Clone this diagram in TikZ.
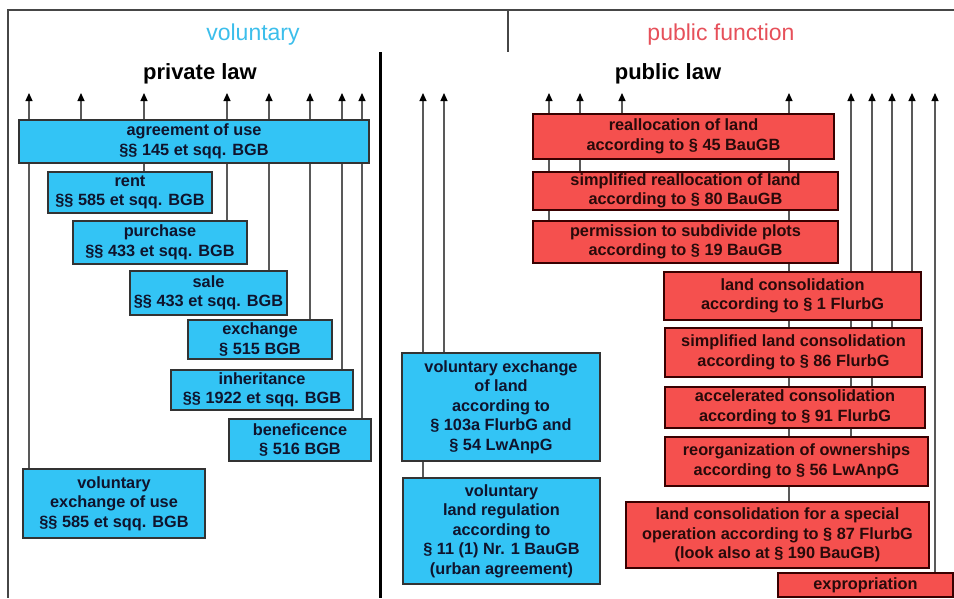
\documentclass[tikz,border=0pt]{standalone}
\usepackage{fontspec}
\setmainfont{Liberation Sans}
\usepackage{xcolor}
\usetikzlibrary{positioning, arrows.meta, backgrounds}

\definecolor{volblue}{RGB}{51,196,245}
\definecolor{pubred}{RGB}{245,80,78}
\definecolor{headblue}{RGB}{60,190,235}
\definecolor{headred}{RGB}{230,80,90}
\definecolor{volink}{RGB}{15,20,45}
\definecolor{pubink}{RGB}{40,10,10}
\definecolor{framegray}{RGB}{70,70,70}

\begin{document}
\begin{tikzpicture}[x=1pt, y=-1pt,
    box/.style={draw, line width=1.3pt, inner sep=0pt, align=center, font=\fontsize{16.3}{19.5}\selectfont\bfseries},
    priv/.style={box, fill=volblue, draw=black!80, text=volink},
    pub/.style={box, fill=pubred, draw=black!78!red, text=pubink},
    head/.style={anchor=base, font=\fontsize{23}{26}\selectfont},
    law/.style={anchor=base, font=\fontsize{22}{26}\selectfont\bfseries},
    up/.style={-{Triangle[length=8pt, width=7pt, color=black]}, line width=1.2pt, draw=black!65},
]
\useasboundingbox (0,0) rectangle (954,598);

% --- frame ---
\draw[framegray, line width=1.2pt] (954,10) -- (8,10) -- (8,598);
\draw[framegray, line width=1.2pt] (508,10) -- (508,52);
\draw[black, line width=3pt] (380,52) -- (380,598);

% --- headings ---
\node[head, text=headblue] (volhead) at (253,40) {voluntary};
\node[head, text=headred] (pubhead) at (721,40) {public function};
\node[law] (privlaw) at (200,79) {private law};
\node[law] (publaw) at (668,79) {public law};

% --- private law (voluntary) ---
\node[priv, minimum width=350pt, minimum height=43pt] (agree) at (194,141.5) {agreement of use\\§§ 145 et sqq. BGB};
\node[priv, minimum width=164pt, minimum height=41pt] (rent) at (130,192.5) {rent\\§§ 585 et sqq. BGB};
\node[priv, minimum width=174pt, minimum height=43pt] (purchase) at (160,242.5) {purchase\\§§ 433 et sqq. BGB};
\node[priv, minimum width=157pt, minimum height=44pt] (sale) at (208.5,293) {sale\\§§ 433 et sqq. BGB};
\node[priv, minimum width=144pt, minimum height=39pt] (exchange) at (260,339.5) {exchange\\§ 515 BGB};
\node[priv, minimum width=182pt, minimum height=40pt] (inherit) at (262,390) {inheritance\\§§ 1922 et sqq. BGB};
\node[priv, minimum width=142pt, minimum height=42pt] (benef) at (300,440) {beneficence\\§ 516 BGB};
\node[priv, minimum width=182pt, minimum height=69pt] (volexuse) at (114,503.5) {voluntary\\exchange of use\\§§ 585 et sqq. BGB};

% --- public law, voluntary ---
\node[priv, minimum width=198pt, minimum height=108pt] (volexland) at (501,407) {voluntary exchange\\of land\\according to\\§ 103a FlurbG and\\§ 54 LwAnpG};
\node[priv, minimum width=197pt, minimum height=106pt] (volreg) at (501.5,531) {voluntary\\land regulation\\according to\\§ 11 (1) Nr. 1 BauGB\\(urban agreement)};

% --- public law, public function ---
\node[pub, minimum width=301pt, minimum height=45pt] (realloc) at (683.5,136.5) {reallocation of land\\according to § 45 BauGB};
\node[pub, minimum width=305pt, minimum height=38pt] (simprealloc) at (685.5,191) {simplified reallocation of land\\according to § 80 BauGB};
\node[pub, minimum width=305pt, minimum height=42pt] (permit) at (685.5,242) {permission to subdivide plots\\according to § 19 BauGB};
\node[pub, minimum width=257pt, minimum height=48pt] (landcons) at (792.5,296) {land consolidation\\according to § 1 FlurbG};
\node[pub, minimum width=257pt, minimum height=49pt] (simpcons) at (793.5,352.5) {simplified land consolidation\\according to § 86 FlurbG};
\node[pub, minimum width=260pt, minimum height=41pt] (accel) at (795,407.5) {accelerated consolidation\\according to § 91 FlurbG};
\node[pub, minimum width=263pt, minimum height=49pt] (reorg) at (796.5,461.5) {reorganization of ownerships\\according to § 56 LwAnpG};
\node[pub, minimum width=303pt, minimum height=66pt] (special) at (777.5,535) {land consolidation for a special\\operation according to § 87 FlurbG\\(look also at § 190 BauGB)};
\node[pub, minimum width=175pt, minimum height=24pt] (exprop) at (865.5,585) {expropriation};

% --- arrow tips ---
\coordinate (tvolexuse) at (29,93);
\coordinate (tagree) at (81,93);
\coordinate (trent) at (144,93);
\coordinate (tpurchase) at (227,93);
\coordinate (tsale) at (269,93);
\coordinate (texchange) at (310,93);
\coordinate (tinherit) at (342,93);
\coordinate (tbenef) at (362,93);
\coordinate (tvolreg) at (423,93);
\coordinate (tvolexland) at (444,93);
\coordinate (tpermit) at (549,93);
\coordinate (tsimprealloc) at (580,93);
\coordinate (trealloc) at (622,93);
\coordinate (tspecial) at (789,93);
\coordinate (treorg) at (851,93);
\coordinate (taccel) at (872,93);
\coordinate (tsimpcons) at (892,93);
\coordinate (tlandcons) at (912,93);
\coordinate (texprop) at (935,93);

% connectors run behind the boxes
\begin{pgfonlayer}{background}
\draw[up] (volexuse.north -| tvolexuse) -- (tvolexuse);
\draw[up] (agree.north -| tagree) -- (tagree);
\draw[up] (rent.north -| trent) -- (trent);
\draw[up] (purchase.north -| tpurchase) -- (tpurchase);
\draw[up] (sale.north -| tsale) -- (tsale);
\draw[up] (exchange.north -| texchange) -- (texchange);
\draw[up] (inherit.north -| tinherit) -- (tinherit);
\draw[up] (benef.north -| tbenef) -- (tbenef);
\draw[up] (volreg.north -| tvolreg) -- (tvolreg);
\draw[up] (volexland.north -| tvolexland) -- (tvolexland);
\draw[up] (permit.north -| tpermit) -- (tpermit);
\draw[up] (simprealloc.north -| tsimprealloc) -- (tsimprealloc);
\draw[up] (realloc.north -| trealloc) -- (trealloc);
\draw[up] (special.north -| tspecial) -- (tspecial);
\draw[up] (reorg.north -| treorg) -- (treorg);
\draw[up] (accel.north -| taccel) -- (taccel);
\draw[up] (simpcons.north -| tsimpcons) -- (tsimpcons);
\draw[up] (landcons.north -| tlandcons) -- (tlandcons);
\draw[up] (exprop.north -| texprop) -- (texprop);
\end{pgfonlayer}

\end{tikzpicture}
\end{document}
